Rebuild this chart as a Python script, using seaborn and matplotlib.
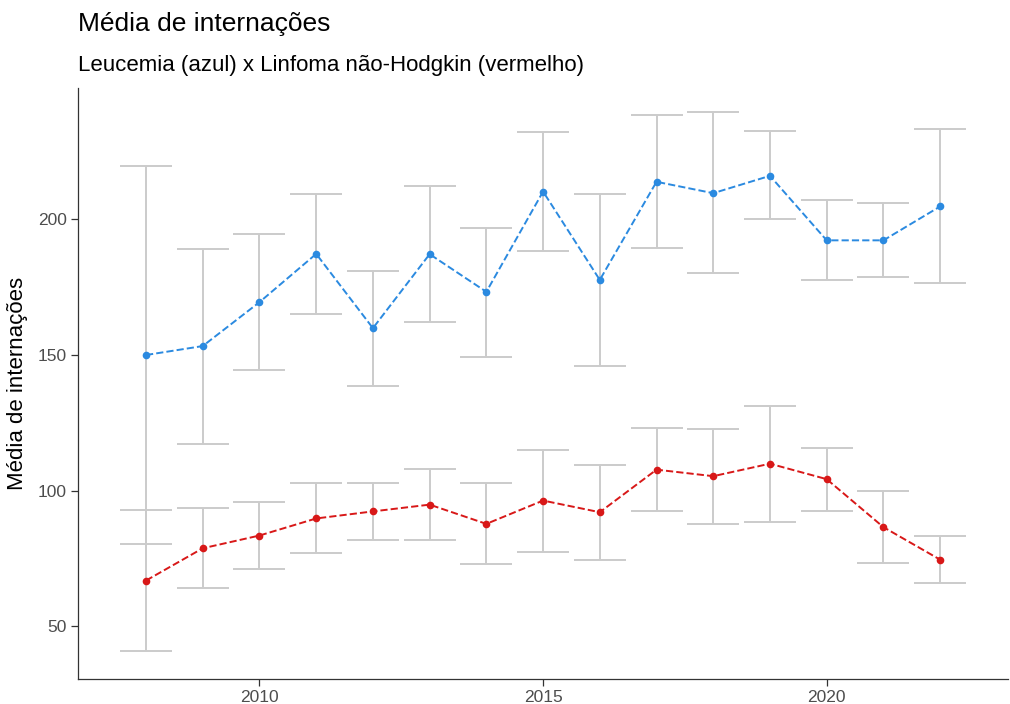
import numpy as np
import pandas as pd
import matplotlib
matplotlib.use('Agg')
import matplotlib.pyplot as plt
import seaborn as sns

# dados
anos = [2008, 2009, 2010, 2011, 2012, 2013, 2014, 2015, 2016, 2017, 2018, 2019, 2020, 2021, 2022]

# Leucemia (azul)
leuc_media = [150.0, 153.3, 169.5, 187.3, 159.9, 187.2, 173.3, 210.3, 177.7, 213.9, 209.7, 216.1, 192.3, 192.3, 204.8]
leuc_inf = [80.2, 117.3, 144.3, 165.3, 138.7, 162.0, 149.3, 188.3, 146.1, 189.3, 180.1, 200.3, 177.5, 178.7, 176.4]
leuc_sup = [219.7, 189.2, 194.8, 209.5, 180.9, 212.5, 197.0, 232.1, 209.3, 238.7, 239.5, 232.5, 207.3, 206.0, 233.2]

# Linfoma não-Hodgkin (vermelho)
linf_media = [66.8, 78.7, 83.4, 89.7, 92.3, 94.8, 87.7, 96.3, 92.0, 107.7, 105.3, 109.9, 104.2, 86.5, 74.5]
linf_inf = [40.7, 63.9, 71.0, 76.9, 81.8, 81.7, 72.9, 77.4, 74.3, 92.5, 87.6, 88.5, 92.5, 73.4, 66.0]
linf_sup = [93.0, 93.5, 95.7, 102.8, 102.8, 107.9, 102.7, 114.9, 109.6, 123.1, 122.6, 131.3, 115.8, 99.9, 83.1]

df_leuc = pd.DataFrame({'ano': anos, 'media': leuc_media, 'inf': leuc_inf, 'sup': leuc_sup})
df_linf = pd.DataFrame({'ano': anos, 'media': linf_media, 'inf': linf_inf, 'sup': linf_sup})

sns.set_style("white")
plt.rcParams['font.family'] = ['Liberation Sans', 'DejaVu Sans']

azul = '#2b8ae0'
vermelho = '#d81818'
cinza = '#cbcbcb'

fig = plt.figure(figsize=(10.1, 7.04), dpi=100)
ax = fig.add_axes([0.0772, 0.036, 0.921, 0.839])

for d in [df_leuc, df_linf]:
    ax.errorbar(d['ano'], d['media'],
                yerr=[d['media'] - d['inf'], d['sup'] - d['media']],
                fmt='none', ecolor=cinza, elinewidth=1.4, capsize=18.7, capthick=1.4, zorder=1)

sns.lineplot(data=df_leuc, x='ano', y='media', ax=ax, color=azul, linestyle='--',
             linewidth=1.4, marker='o', markersize=5.5, markeredgewidth=0, zorder=3)
sns.lineplot(data=df_linf, x='ano', y='media', ax=ax, color=vermelho, linestyle='--',
             linewidth=1.4, marker='o', markersize=5.5, markeredgewidth=0, zorder=3)

ax.set_xlim(2006.8, 2023.2)
ax.set_ylim(30.6, 248.5)
ax.set_xticks([2010, 2015, 2020])
ax.set_yticks([50, 100, 150, 200])
ax.set_xlabel('')
ax.set_ylabel('Média de internações', fontsize=16, color='black', labelpad=7)

sns.despine(ax=ax)
for s in ['left', 'bottom']:
    ax.spines[s].set_color('#333333')
    ax.spines[s].set_linewidth(0.9)
ax.tick_params(axis='both', which='both', length=5, width=0.9, color='#333333',
               labelsize=12.5, labelcolor='#4d4d4d', pad=3, left=True, bottom=True)

fig.text(0.0772, 1 - 31 / 704, 'Média de internações', fontsize=19, va='baseline', ha='left',
         color='black')
fig.text(0.0772, 1 - 71 / 704, 'Leucemia (azul) x Linfoma não-Hodgkin (vermelho)',
         fontsize=16, va='baseline', ha='left', color='black')

plt.savefig('out.png', dpi=100)
